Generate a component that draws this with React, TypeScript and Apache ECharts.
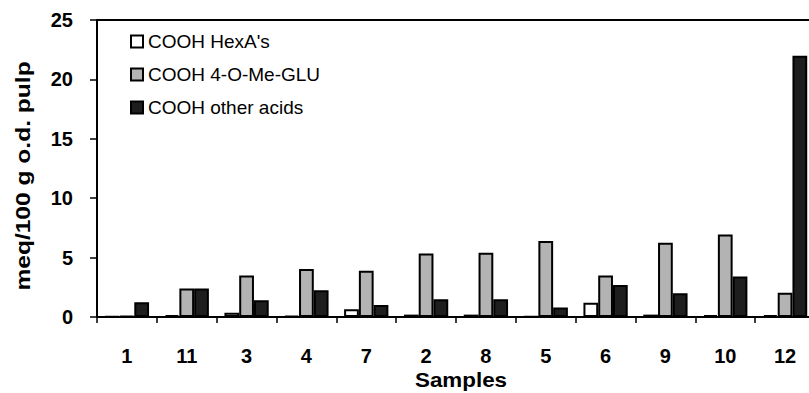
import React, { useEffect, useRef } from "react";
import * as echarts from "echarts";

const categories = ["1", "11", "3", "4", "7", "2", "8", "5", "6", "9", "10", "12"];
const hexA = [0.05, 0.15, 0.35, 0.1, 0.65, 0.2, 0.2, 0.05, 1.2, 0.2, 0.15, 0.15];
const glu = [0.1, 2.4, 3.5, 4.05, 3.9, 5.35, 5.4, 6.4, 3.5, 6.25, 6.95, 2.05];
const other = [1.25, 2.4, 1.4, 2.25, 1.0, 1.5, 1.5, 0.8, 2.7, 2.0, 3.4, 22.0];
const seriesNames = ["COOH HexA's", "COOH 4-O-Me-GLU", "COOH other acids"];
const yTicks = { min: 0, max: 25, interval: 5 };

const FONT = "'Liberation Sans', Arial, sans-serif";

export default function App() {
  const ref = useRef<HTMLDivElement>(null);
  useEffect(() => {
    if (!ref.current) return;
    document.body.style.overflow = "hidden";
    const chart = echarts.init(ref.current, undefined, { renderer: "svg" });
    const barBase = {
      type: "bar" as const,
      barGap: "0%",
      barCategoryGap: "26%",
    };
    chart.setOption({
      animation: false,
      backgroundColor: "#ffffff",
      textStyle: { fontFamily: FONT },
      grid: {
        left: 97,
        top: 20,
        right: 1,
        bottom: 76,
        show: true,
        borderColor: "#000",
        borderWidth: 2,
      },
      legend: {
        orient: "vertical",
        left: 130,
        top: 32,
        padding: 0,
        itemWidth: 12,
        itemHeight: 12,
        itemGap: 14,
        icon: "rect",
        textStyle: { fontFamily: FONT, fontSize: 19, color: "#000" },
        data: seriesNames,
      },
      xAxis: {
        type: "category",
        data: categories,
        axisLine: { lineStyle: { color: "#000", width: 2 } },
        axisTick: { show: true, alignWithLabel: false, length: 6, lineStyle: { color: "#000", width: 1.5 } },
        axisLabel: { fontFamily: FONT, fontSize: 20, fontWeight: "bold", color: "#000", margin: 29 },
        splitLine: { show: false },
      },
      yAxis: {
        type: "value",
        min: yTicks.min,
        max: yTicks.max,
        interval: yTicks.interval,
        axisLine: { show: true, lineStyle: { color: "#000", width: 2 } },
        axisTick: { show: true, length: 7, lineStyle: { color: "#000", width: 1.5 } },
        axisLabel: { fontFamily: FONT, fontSize: 20, fontWeight: "bold", color: "#000", margin: 24 },
        splitLine: { show: false },
      },
      graphic: [
        {
          type: "text",
          x: 461,
          y: 370,
          scaleX: 1.12,
          style: {
            text: "Samples",
            fontFamily: FONT,
            fontSize: 20,
            fontWeight: "bold",
            fill: "#000",
            align: "center",
            verticalAlign: "top",
          },
        },
        {
          type: "text",
          x: 23,
          y: 176,
          rotation: Math.PI / 2,
          scaleX: 1.17,
          style: {
            text: "meq/100 g o.d. pulp",
            fontFamily: FONT,
            fontSize: 21,
            fontWeight: "bold",
            fill: "#000",
            align: "center",
            verticalAlign: "middle",
          },
        },
      ],
      series: [
        {
          ...barBase,
          name: seriesNames[0],
          data: hexA,
          itemStyle: { color: "#ffffff", borderColor: "#000", borderWidth: 2 },
        },
        {
          ...barBase,
          name: seriesNames[1],
          data: glu,
          itemStyle: { color: "#b3b3b3", borderColor: "#000", borderWidth: 2 },
        },
        {
          ...barBase,
          name: seriesNames[2],
          data: other,
          itemStyle: { color: "#1e1e1e", borderColor: "#000", borderWidth: 2 },
        },
      ],
    });
    return () => chart.dispose();
  }, []);
  return (
    <div
      ref={ref}
      style={{ position: "fixed", left: 0, top: 0, width: 816, height: 393, background: "#fff" }}
    />
  );
}
